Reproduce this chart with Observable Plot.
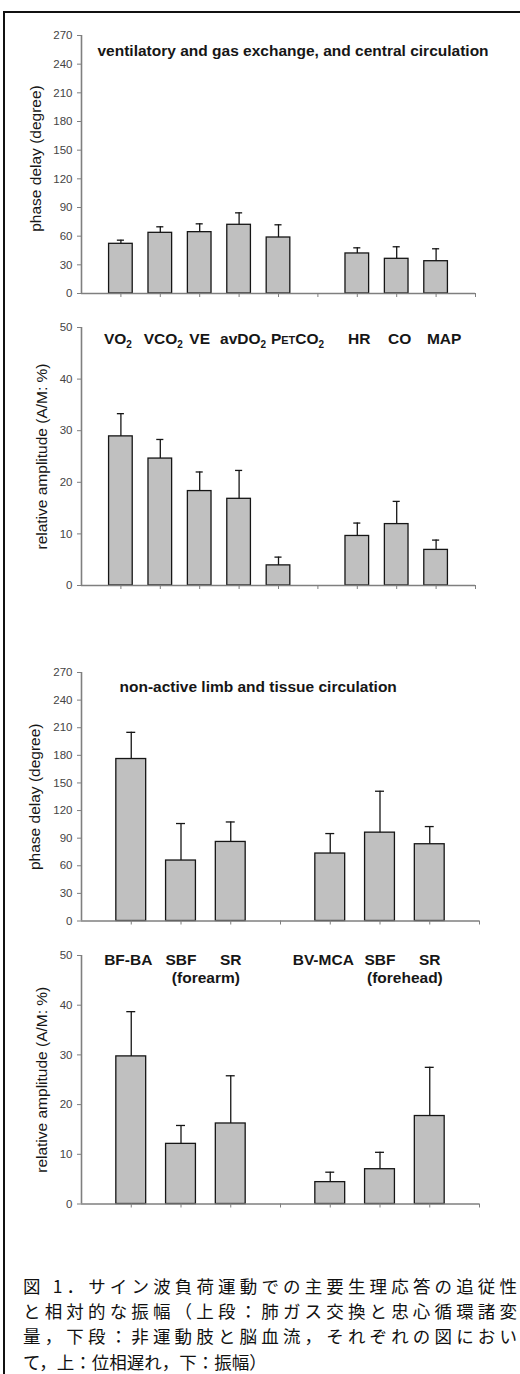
<!DOCTYPE html>
<html>
<head>
<meta charset="utf-8">
<script src="https://cdn.jsdelivr.net/npm/d3@7"></script>
<script src="https://cdn.jsdelivr.net/npm/@observablehq/plot@0.6"></script>
<style>
  html, body { margin: 0; padding: 0; background: #fff; }
  body { width: 520px; height: 1374px; overflow: hidden; position: relative; font-family: "Liberation Sans", Arial, sans-serif; }
  .panel { position: absolute; left: 0; width: 520px; }
  .panel svg { background: transparent !important; overflow: visible; }
  #frame { position: absolute; left: 3px; top: 11px; width: 700px; height: 1600px; border-top: 2px solid #111; border-left: 2px solid #111; pointer-events: none; }
  #caption { position: absolute; left: 23px; top: 1272.5px; width: 494px; font-family: "Noto Sans CJK JP", sans-serif; font-size: 17.5px; line-height: 25.4px; color: #111; }
  #caption .j { text-align: justify; text-align-last: justify; }
</style>
</head>
<body>
<div id="p1" class="panel" style="top:0px"></div>
<div id="p2" class="panel" style="top:300px"></div>
<div id="p3" class="panel" style="top:640px"></div>
<div id="p4" class="panel" style="top:928px"></div>
<div id="caption"></div>
<div id="frame"></div>
<script>
// ---------- data ----------
const upperCats = ["VO2", "VCO2", "VE", "avDO2", "PETCO2", "", "HR", "CO", "MAP"];
const upperPhase = [52, 63.5, 64.2, 71.9, 58.6, null, 41.9, 36.3, 33.8];
const upperPhaseErr = [3.8, 6.3, 8.7, 12.5, 13.3, null, 5.9, 12.6, 13.0];
const upperAmp = [28.9, 24.6, 18.3, 16.8, 3.9, null, 9.6, 11.9, 6.9];
const upperAmpErr = [4.4, 3.7, 3.7, 5.5, 1.6, null, 2.5, 4.4, 1.9];

const lowerCats = ["BF-BA", "SBF", "SR", "", "BV-MCA", "SBF", "SR"];
const lowerGroups = ["(forearm)", "(forehead)"];
const lowerPhase = [176, 65.7, 85.9, null, 73.3, 96, 83.4];
const lowerPhaseErr = [29, 40.2, 21.7, null, 21.7, 45, 19.2];
const lowerAmp = [29.7, 12.1, 16.2, null, 4.4, 7.0, 17.7];
const lowerAmpErr = [9.0, 3.7, 9.6, null, 2.0, 3.4, 9.8];

const phaseTicks = [0, 30, 60, 90, 120, 150, 180, 210, 240, 270];
const ampTicks = [0, 10, 20, 30, 40, 50];
const upperTitle = "ventilatory and gas exchange, and central circulation";
const lowerTitle = "non-active limb and tissue circulation";
const phaseLabel = "phase delay (degree)";
const ampLabel = "relative amplitude (A/M: %)";
const captionLines = [
  "図 1．サイン波負荷運動での主要生理応答の追従性",
  "と相対的な振幅（上段：肺ガス交換と忠心循環諸変",
  "量，下段：非運動肢と脳血流，それぞれの図におい",
  "て，上：位相遅れ，下：振幅）"
];

// ---------- drawing ----------
const FONT = "'Liberation Sans', Arial, Helvetica, sans-serif";
const INK = "#161616";
const AXIS = "#7f7f7f";

function panel(cfg) {
  const n = cfg.cats.length;
  const rows = cfg.cats.map((c, i) => ({c, pos: i + 1, v: cfg.values[i], e: cfg.errs[i]}))
    .filter(d => d.v != null);
  const plotW = 520 - 81 - cfg.marginRight;
  const pxPerUnit = plotW / (n + 1);
  const labelX = (cfg.yLabelX - 81) / pxPerUnit;
  const labelY = cfg.yMax / 2 - cfg.yLabelDy * cfg.yMax / cfg.plotH;
  const marks = [
    Plot.rect(rows, {x1: d => d.pos - 0.3, x2: d => d.pos + 0.3, y1: 0, y2: "v",
      fill: "#c0c0c0", stroke: INK, strokeWidth: 1.3}),
    Plot.ruleX(rows, {x: "pos", y1: "v", y2: d => d.v + d.e, stroke: INK, strokeWidth: 1.3}),
    Plot.ruleY(rows, {y: d => d.v + d.e, x1: d => d.pos - 0.09, x2: d => d.pos + 0.09, stroke: INK, strokeWidth: 1.3}),
    Plot.ruleY([0], {stroke: AXIS, strokeWidth: 1.6}),
    Plot.ruleX([0], {stroke: AXIS, strokeWidth: 1.6}),
    Plot.axisY({ticks: cfg.ticks, tickSize: 4, tickPadding: 5, stroke: AXIS, fill: "#444", label: null}),
    Plot.axisX({ticks: d3.range(1, n + 2), tickSize: 4, tickFormat: () => "", stroke: AXIS, label: null}),
    Plot.text([cfg.yLabel], {text: d => d, x: () => labelX, y: () => labelY, rotate: -90,
      fontSize: 15.5, fill: INK})
  ];
  if (cfg.title) {
    marks.push(Plot.text([cfg.title], {text: d => d, frameAnchor: "top-left", textAnchor: "start",
      dx: cfg.titleDx, dy: cfg.titleDy, fontSize: 15.5, fontWeight: "bold", fill: INK}));
  }
  if (cfg.labels) {
    const nudge = cfg.nudge || {};
    marks.push(Plot.text(rows, {x: d => d.pos + (nudge[d.c] || 0) / pxPerUnit, frameAnchor: "top", dy: cfg.labelDy,
      text: "c", fontSize: 15.5, fontWeight: "bold", fill: INK}));
  }
  if (cfg.groups) {
    const g = cfg.groups.map((label, k) => {
      const idx = cfg.cats.indexOf("SBF", k === 0 ? 0 : 4);
      return {label, pos: idx + 1.5};
    });
    marks.push(Plot.text(g, {x: "pos", frameAnchor: "top", dy: cfg.groupDy, text: "label",
      fontSize: 15.5, fontWeight: "bold", fill: INK}));
  }
  const svg = Plot.plot({
    width: 520,
    height: cfg.height,
    marginLeft: 81,
    marginRight: cfg.marginRight,
    marginTop: cfg.marginTop,
    marginBottom: cfg.height - cfg.marginTop - cfg.plotH,
    style: {fontFamily: FONT, fontSize: "11.5px", background: "transparent", overflow: "visible"},
    x: {type: "linear", domain: [0, n + 1]},
    y: {domain: [0, cfg.yMax]},
    marks
  });
  richLabels(svg);
  document.getElementById(cfg.id).appendChild(svg);
}

function richLabels(svg) {
  const ns = "http://www.w3.org/2000/svg";
  svg.querySelectorAll("text").forEach(el => {
    const t = el.textContent;
    if (!["VO2", "VCO2", "avDO2", "PETCO2"].includes(t)) return;
    el.textContent = "";
    const add = (s, attrs = {}) => {
      const ts = document.createElementNS(ns, "tspan");
      ts.textContent = s;
      for (const k in attrs) ts.setAttribute(k, attrs[k]);
      el.appendChild(ts);
    };
    if (t === "PETCO2") {
      add("P"); add("ET", {"font-size": "11px"}); add("CO");
    } else {
      add(t.slice(0, -1));
    }
    add("2", {"font-size": "10px", dy: "4"});
  });
}

panel({id: "p1", cats: upperCats, values: upperPhase, errs: upperPhaseErr, yMax: 270, ticks: phaseTicks,
  marginTop: 35, plotH: 258, height: 303, marginRight: 45,
  title: upperTitle, titleDx: 16, titleDy: 9, yLabel: phaseLabel, yLabelX: 36, yLabelDy: -6});
panel({id: "p2", cats: upperCats, values: upperAmp, errs: upperAmpErr, yMax: 50, ticks: ampTicks,
  marginTop: 27, plotH: 258, height: 295, marginRight: 45,
  labels: true, labelDy: 5, nudge: {VO2: -3, VCO2: 3, avDO2: 4, PETCO2: 19, HR: 2, CO: 3, MAP: 8},
  yLabel: ampLabel, yLabelX: 42, yLabelDy: 0});
panel({id: "p3", cats: lowerCats, values: lowerPhase, errs: lowerPhaseErr, yMax: 270, ticks: phaseTicks,
  marginTop: 32, plotH: 248.5, height: 288, marginRight: 41,
  title: lowerTitle, titleDx: 38, titleDy: 8, yLabel: phaseLabel, yLabelX: 35, yLabelDy: 0});
panel({id: "p4", cats: lowerCats, values: lowerAmp, errs: lowerAmpErr, yMax: 50, ticks: ampTicks,
  marginTop: 27, plotH: 248.5, height: 285, marginRight: 41,
  labels: true, labelDy: -2, groups: lowerGroups, groupDy: 16,
  nudge: {"BF-BA": -3, "BV-MCA": -7}, yLabel: ampLabel, yLabelX: 42, yLabelDy: 0});

const cap = document.getElementById("caption");
captionLines.forEach((line, i) => {
  const div = document.createElement("div");
  if (i < captionLines.length - 1) div.className = "j";
  div.textContent = line;
  cap.appendChild(div);
});
</script>
</body>
</html>
